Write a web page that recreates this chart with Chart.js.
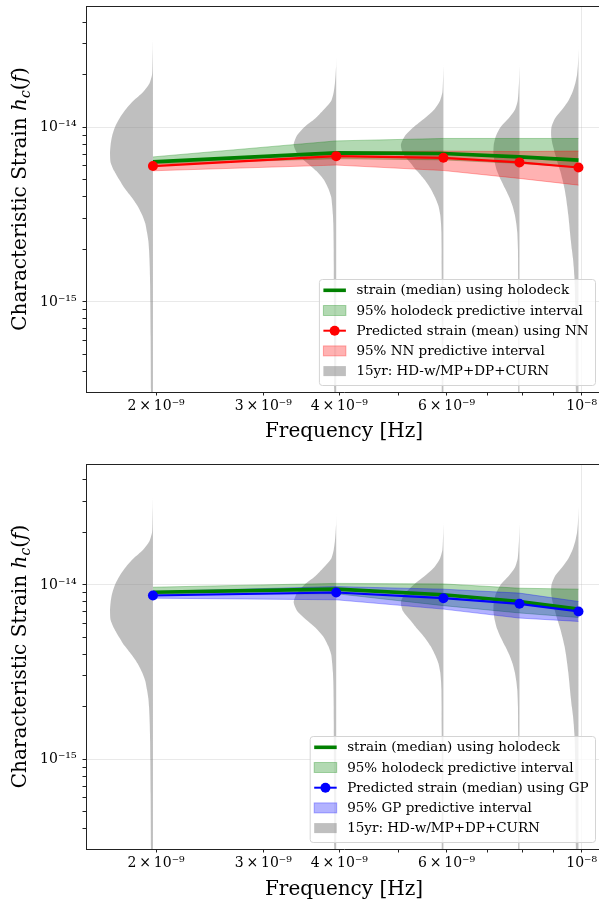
<!DOCTYPE html>
<html><head><meta charset="utf-8">
<script src="https://cdn.jsdelivr.net/npm/chart.js@4.4.1/dist/chart.umd.min.js"></script>
<style>
html,body{margin:0;padding:0;background:#fff;overflow:hidden;}
#wrap{position:relative;width:599px;height:899px;overflow:hidden;background:#fff;}
canvas{position:absolute;left:0;}
#c1{top:0;}
#c2{top:458px;}
</style></head><body>
<div id="wrap">
<canvas id="c1" width="620" height="450"></canvas>
<canvas id="c2" width="620" height="450"></canvas>
</div>
<script>
// ---------- data ----------
const frequencies = [1.976e-9, 3.952e-9, 5.928e-9, 7.904e-9, 9.880e-9];

// top panel (NN)
const holoMedianTop = [6.33e-15, 7.13e-15, 7.07e-15, 6.76e-15, 6.48e-15];
const holoUpperTop  = [6.76e-15, 8.35e-15, 8.62e-15, 8.62e-15, 8.62e-15];
const holoLowerTop  = [6.15e-15, 6.60e-15, 6.50e-15, 6.20e-15, 5.90e-15];
const nnMean        = [5.99e-15, 6.83e-15, 6.68e-15, 6.29e-15, 5.88e-15];
const nnUpper       = [6.30e-15, 7.20e-15, 7.30e-15, 7.25e-15, 7.30e-15];
const nnLower       = [5.63e-15, 6.07e-15, 5.65e-15, 5.09e-15, 4.66e-15];

// bottom panel (GP)
const holoMedianBot = [9.08e-15, 9.45e-15, 8.77e-15, 8.03e-15, 7.26e-15];
const holoUpperBot  = [9.70e-15, 1.02e-14, 1.013e-14, 9.57e-15, 9.45e-15];
const holoLowerBot  = [8.80e-15, 8.90e-15, 7.60e-15, 6.90e-15, 6.50e-15];
const gpMedian      = [8.69e-15, 9.04e-15, 8.39e-15, 7.79e-15, 7.04e-15];
const gpUpper       = [9.16e-15, 9.78e-15, 9.45e-15, 8.97e-15, 8.03e-15];
const gpLower       = [8.39e-15, 8.21e-15, 7.26e-15, 6.45e-15, 6.17e-15];

// 15yr violin densities (relative units) on a log10 strain grid
const violinLogStrain = [-13.35,-13.40,-13.45,-13.50,-13.55,-13.60,-13.65,-13.70,-13.75,-13.80,-13.85,-13.90,-13.95,-14.00,-14.05,-14.10,-14.15,-14.20,-14.25,-14.30,-14.35,-14.40,-14.45,-14.50,-14.55,-14.60,-14.65,-14.70,-14.75,-14.80,-14.85,-14.90,-15.0,-15.2,-15.5,-16.0];
const violinDensityF1 = [0,0,0,0,0.1,0.3,0.5,0.9,3.5,10,19.8,27.5,33.5,38,40.8,42.3,42.9,42.4,38.8,33.8,28.3,21.5,15.5,11,7.7,6,4.6,3.9,3.5,3.2,3.0,2.8,2.6,2.3,2.0,2.0];
const violinDensityF2 = [0,0,0,0,0,0,0.1,0.6,1.3,2.5,5,12.5,21,32,39.5,42.5,39,30,20,12.5,8,5,4,3.3,2.9,2.7,2.6,2.5,2.5,2.4,2.4,2.4,2.3,2.2,2.0,2.0];
const violinDensityF3 = [0,0,0,0,0,0,0,0.2,0.5,1,3.5,9.3,19,30,38.5,42.5,40.5,33.5,26.5,19,13,8.5,5,3.2,2.4,2.0,1.9,1.8,1.8,1.8,1.7,1.7,1.7,1.7,1.7,1.7];
const violinDensityF4 = [0,0,0,0,0,0,0,0.2,0.5,1,1.8,4.5,11,19,23.5,25.7,26,24.8,22.5,18.8,14.5,10.3,7,4.7,3.2,2.2,1.8,1.5,1.4,1.4,1.3,1.3,1.3,1.3,1.3,1.3];
const violinDensityF5 = [0,0,0,0,0,0.2,0.6,1.4,3.2,6,10.2,16.5,23.5,27,27.3,25.8,23.5,21,18.3,16,14,12.5,11.3,10.2,9.3,8.5,7.6,6.6,5.5,4.7,4.1,3.7,3.3,2.9,2.6,2.5];
const violinDensities = [violinDensityF1, violinDensityF2, violinDensityF3, violinDensityF4, violinDensityF5];

// ticks
const xTickValues = [2e-9, 3e-9, 4e-9, 5e-9, 6e-9, 7e-9, 8e-9, 9e-9, 1e-8];
const xTickLabels = ['2\u2009×\u200910⁻⁹', '3\u2009×\u200910⁻⁹', '4\u2009×\u200910⁻⁹', '', '6\u2009×\u200910⁻⁹', '', '', '', '10⁻⁸'];
const xGridValues = [1e-8];
const yTickValues = [4e-16,5e-16,6e-16,7e-16,8e-16,9e-16,1e-15,2e-15,3e-15,4e-15,5e-15,6e-15,7e-15,8e-15,9e-15,1e-14,2e-14,3e-14,4e-14];
const yTickLabels = ['','','','','','','10⁻¹⁵','','','','','','','','','10⁻¹⁴','','',''];
const yGridValues = [1e-15, 1e-14];

const legendLabelsTop = ['strain (median) using holodeck', '95% holodeck predictive interval', 'Predicted strain (mean) using NN', '95% NN predictive interval', '15yr: HD-w/MP+DP+CURN'];
const legendLabelsBot = ['strain (median) using holodeck', '95% holodeck predictive interval', 'Predicted strain (median) using GP', '95% GP predictive interval', '15yr: HD-w/MP+DP+CURN'];

// ---------- styling / layout ----------
const FONT = '"DejaVu Serif"';
const X_MIN = 1.534e-9, X_MAX = 1.080e-8;
const Y_MIN = 3.05e-16, Y_MAX = 4.94e-14;
const DECADES_PER_DENSITY = 0.001643;
const GRID_COLOR = 'rgba(176,176,176,0.28)';
const SPINE = '#222';
const VIOLIN_COLOR = 'rgba(128,128,128,0.5)';
const TITLE_SIZE = 20;

Chart.defaults.font.family = FONT;
Chart.defaults.color = '#000';

function violinPoints(f, dens) {
  const pts = [{x: f, y: Math.pow(10, violinLogStrain[0])}];
  violinLogStrain.forEach((L, i) => {
    pts.push({x: f * Math.pow(10, -dens[i] * DECADES_PER_DENSITY), y: Math.pow(10, L)});
  });
  pts.push({x: f, y: Math.pow(10, violinLogStrain[violinLogStrain.length - 1])});
  return pts;
}
function xy(vals) { return frequencies.map((f, i) => ({x: f, y: vals[i]})); }

const frameAndTitlePlugin = {
  id: 'frameAndTitle',
  afterDraw(chart) {
    const {ctx, chartArea: a} = chart;
    ctx.save();
    ctx.strokeStyle = SPINE; ctx.lineWidth = 1;
    ctx.beginPath();
    ctx.moveTo(a.left, a.top + 0.5); ctx.lineTo(a.right, a.top + 0.5);
    ctx.moveTo(a.right - 0.5, a.top); ctx.lineTo(a.right - 0.5, a.bottom);
    ctx.stroke();
    // y-axis title with math italics
    const size = TITLE_SIZE;
    const parts = [
      {t: 'Characteristic Strain ', f: `${size}px ${FONT}`, dy: 0},
      {t: 'h', f: `italic ${size}px ${FONT}`, dy: 0},
      {t: 'c', f: `italic ${Math.round(size * 0.7)}px ${FONT}`, dy: size * 0.22},
      {t: '(', f: `${size}px ${FONT}`, dy: 0},
      {t: 'f', f: `italic ${size}px ${FONT}`, dy: 0},
      {t: ')', f: `${size}px ${FONT}`, dy: 0}
    ];
    let total = 0;
    parts.forEach(p => { ctx.font = p.f; p.w = ctx.measureText(p.t).width; total += p.w; });
    ctx.translate(26, (a.top + a.bottom) / 2);
    ctx.rotate(-Math.PI / 2);
    ctx.fillStyle = '#000';
    ctx.textBaseline = 'alphabetic';
    ctx.textAlign = 'left';
    let x = -total / 2;
    parts.forEach(p => { ctx.font = p.f; ctx.fillText(p.t, x, p.dy); x += p.w; });
    ctx.restore();
  }
};

const legendPlugin = {
  id: 'boxLegend',
  afterDraw(chart, args, opts) {
    const {ctx, chartArea: a} = chart;
    const items = opts.items;
    const fs = 13.5, rowH = 20.2, padL = 4.5, handle = 22.5, gap = 10.5, padR = 6.5;
    ctx.save();
    ctx.font = `${fs}px ${FONT}`;
    let maxW = 0;
    items.forEach(it => { maxW = Math.max(maxW, ctx.measureText(it.label).width); });
    const w = padL + handle + gap + maxW + padR;
    const h = items.length * rowH + 5;
    const right = a.right - 7, bottom = a.bottom - 7;
    const left = right - w, top = bottom - h;
    ctx.beginPath();
    ctx.roundRect(left + 0.5, top + 0.5, w, h, 3);
    ctx.fillStyle = 'rgba(255,255,255,0.8)';
    ctx.fill();
    ctx.strokeStyle = '#d4d4d4'; ctx.lineWidth = 1;
    ctx.stroke();
    items.forEach((it, i) => {
      const cy = top + 11.3 + i * rowH;
      const hx = left + padL;
      if (it.kind === 'line' || it.kind === 'marker') {
        ctx.strokeStyle = it.color; ctx.lineWidth = it.width;
        ctx.beginPath(); ctx.moveTo(hx, cy); ctx.lineTo(hx + handle, cy); ctx.stroke();
        if (it.kind === 'marker') {
          ctx.fillStyle = it.color;
          ctx.beginPath(); ctx.arc(hx + handle / 2, cy, 5, 0, Math.PI * 2); ctx.fill();
        }
      } else {
        ctx.fillStyle = it.color;
        ctx.fillRect(hx, cy - 5, handle, 10);
        if (it.edge) { ctx.strokeStyle = it.color; ctx.lineWidth = 1; ctx.strokeRect(hx, cy - 5, handle, 10); }
      }
      ctx.fillStyle = '#000';
      ctx.textBaseline = 'middle';
      ctx.textAlign = 'left';
      ctx.fillText(it.label, hx + handle + gap, cy + 0.5);
    });
    ctx.restore();
  }
};

function buildChart(id, p) {
  const datasets = [
    {label: p.labels[2], data: xy(p.predMid), borderColor: p.predColor, backgroundColor: p.predColor, borderWidth: 2.2,
     pointRadius: 5, pointBorderWidth: 0, pointBackgroundColor: p.predColor, tension: 0, fill: false, order: 0},
    {label: p.labels[0], data: xy(p.holoMid), borderColor: '#008000', borderWidth: 3.6, pointRadius: 0, tension: 0, fill: false, order: 1},
    {label: p.labels[3], data: xy(p.predHi), borderColor: p.predBand, borderWidth: 1, backgroundColor: p.predBand, pointRadius: 0, tension: 0, fill: '+1', order: 2},
    {label: '', data: xy(p.predLo), borderColor: p.predBand, borderWidth: 1, pointRadius: 0, tension: 0, fill: false, order: 2},
    {label: p.labels[1], data: xy(p.holoHi), borderColor: 'rgba(0,128,0,0.3)', borderWidth: 1, backgroundColor: 'rgba(0,128,0,0.3)', pointRadius: 0, tension: 0, fill: '+1', order: 3},
    {label: '', data: xy(p.holoLo), borderColor: 'rgba(0,128,0,0.3)', borderWidth: 1, pointRadius: 0, tension: 0, fill: false, order: 3}
  ];
  frequencies.forEach((f, i) => {
    datasets.push({label: i === 0 ? p.labels[4] : '', data: violinPoints(f, violinDensities[i]),
      borderWidth: 0, borderColor: 'rgba(0,0,0,0)', backgroundColor: VIOLIN_COLOR, pointRadius: 0,
      tension: 0.2, fill: 'shape', order: 5});
  });
  return new Chart(document.getElementById(id), {
    type: 'line',
    data: {datasets},
    plugins: [frameAndTitlePlugin, legendPlugin],
    options: {
      responsive: false, animation: false, events: [],
      layout: {padding: {left: 0, right: 18, top: 6, bottom: 0}},
      plugins: {
        legend: {display: false}, tooltip: {enabled: false},
        boxLegend: {items: [
          {kind: 'line', color: '#008000', width: 3.6, label: p.labels[0]},
          {kind: 'patch', color: 'rgba(0,128,0,0.3)', edge: true, label: p.labels[1]},
          {kind: 'marker', color: p.predColor, width: 2, label: p.labels[2]},
          {kind: 'patch', color: p.predBand, edge: true, label: p.labels[3]},
          {kind: 'patch', color: VIOLIN_COLOR, label: p.labels[4]}
        ]}
      },
      scales: {
        x: {
          type: 'logarithmic', position: 'bottom', min: X_MIN, max: X_MAX,
          afterBuildTicks: s => { s.ticks = xTickValues.map(v => ({value: v})); },
          afterFit: s => { s.height = p.xAxisHeight; s.paddingLeft = 0; s.paddingRight = 0; },
          ticks: {autoSkip: false, maxRotation: 0, minRotation: 0, padding: 2, color: '#000', font: {size: 14},
                  callback: (v, i) => xTickLabels[i]},
          grid: {color: c => (c.tick && xGridValues.includes(c.tick.value)) ? GRID_COLOR : 'rgba(0,0,0,0)',
                 tickColor: SPINE, tickLength: 3.5, lineWidth: 1},
          border: {color: SPINE, width: 1},
          title: {display: true, text: 'Frequency [Hz]', color: '#000', font: {size: TITLE_SIZE}, padding: {top: 0, bottom: 6.3}}
        },
        y: {
          type: 'logarithmic', position: 'left', min: Y_MIN, max: Y_MAX,
          afterBuildTicks: s => { s.ticks = yTickValues.map(v => ({value: v})); },
          afterFit: s => { s.width = 86; s.paddingTop = 0; s.paddingBottom = 0; },
          ticks: {autoSkip: false, padding: 6, color: '#000', font: {size: 14},
                  callback: (v, i) => yTickLabels[i]},
          grid: {color: c => (c.tick && yGridValues.includes(c.tick.value)) ? GRID_COLOR : 'rgba(0,0,0,0)',
                 tickColor: SPINE, tickLength: 3.5, lineWidth: 1},
          border: {color: SPINE, width: 1}
        }
      }
    }
  });
}

buildChart('c1', {
  labels: legendLabelsTop, holoMid: holoMedianTop, holoHi: holoUpperTop, holoLo: holoLowerTop,
  predMid: nnMean, predHi: nnUpper, predLo: nnLower,
  predColor: '#ff0000', predBand: 'rgba(255,0,0,0.3)', xAxisHeight: 58
});
buildChart('c2', {
  labels: legendLabelsBot, holoMid: holoMedianBot, holoHi: holoUpperBot, holoLo: holoLowerBot,
  predMid: gpMedian, predHi: gpUpper, predLo: gpLower,
  predColor: '#0000ff', predBand: 'rgba(0,0,255,0.3)', xAxisHeight: 59
});
</script>
</body></html>
